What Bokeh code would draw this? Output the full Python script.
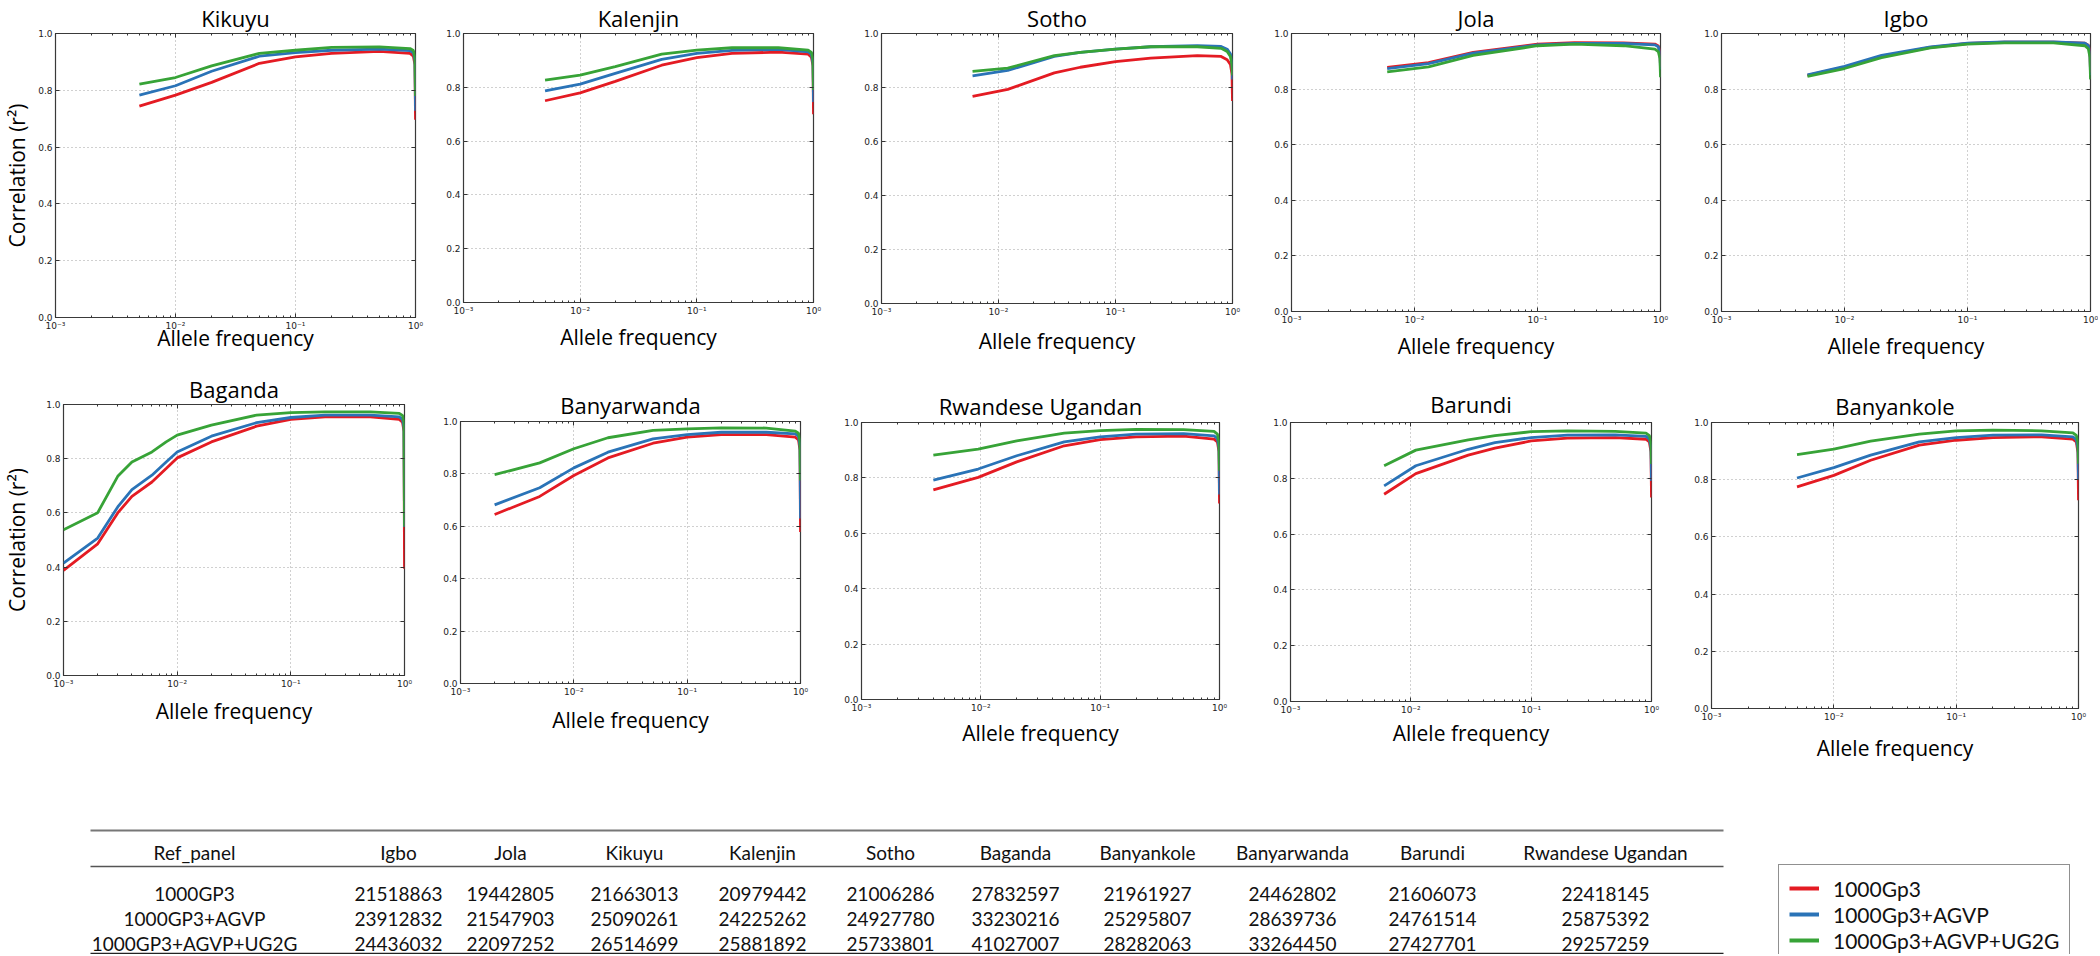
from bokeh.plotting import figure
from bokeh.layouts import row, column
from bokeh.models import (Range1d, FixedTicker, CustomJSTickFormatter, PrintfTickFormatter,
                          Legend, LegendItem, LogAxis, LinearAxis)
from bokeh.embed import file_html
from bokeh.resources import INLINE
from bokeh.core.properties import value

# ---------------- data ----------------
series_labels = ["1000Gp3", "1000Gp3+AGVP", "1000Gp3+AGVP+UG2G"]

kikuyu_af = [0.005, 0.01, 0.02, 0.05, 0.1, 0.2, 0.5, 0.9, 0.96, 0.99, 1.0]
kikuyu_1000g = [0.744, 0.783, 0.828, 0.895, 0.918, 0.930, 0.937, 0.930, 0.920, 0.890, 0.696]
kikuyu_agvp = [0.783, 0.816, 0.867, 0.920, 0.933, 0.941, 0.945, 0.940, 0.932, 0.905, 0.728]
kikuyu_ug2g = [0.822, 0.845, 0.886, 0.930, 0.941, 0.951, 0.953, 0.947, 0.940, 0.915, 0.780]

kalenjin_af = [0.005, 0.01, 0.02, 0.05, 0.1, 0.2, 0.5, 0.9, 0.96, 0.99, 1.0]
kalenjin_1000g = [0.750, 0.779, 0.822, 0.882, 0.910, 0.926, 0.931, 0.923, 0.912, 0.880, 0.700]
kalenjin_agvp = [0.787, 0.812, 0.852, 0.904, 0.926, 0.937, 0.941, 0.932, 0.922, 0.890, 0.745]
kalenjin_ug2g = [0.827, 0.845, 0.877, 0.923, 0.938, 0.947, 0.947, 0.938, 0.930, 0.905, 0.790]

sotho_af = [0.006, 0.012, 0.03, 0.05, 0.1, 0.2, 0.5, 0.8, 0.9, 0.96, 0.99, 1.0]
sotho_1000g = [0.767, 0.793, 0.854, 0.875, 0.896, 0.909, 0.918, 0.915, 0.903, 0.885, 0.850, 0.750]
sotho_agvp = [0.843, 0.863, 0.915, 0.930, 0.942, 0.951, 0.955, 0.952, 0.942, 0.925, 0.890, 0.830]
sotho_ug2g = [0.860, 0.872, 0.918, 0.930, 0.942, 0.951, 0.951, 0.945, 0.933, 0.915, 0.885, 0.845]

jola_af = [0.006, 0.013, 0.03, 0.1, 0.2, 0.5, 0.9, 0.96, 0.99, 1.0]
jola_1000g = [0.878, 0.895, 0.932, 0.962, 0.967, 0.966, 0.962, 0.955, 0.935, 0.880]
jola_agvp = [0.874, 0.892, 0.929, 0.959, 0.964, 0.964, 0.959, 0.952, 0.930, 0.870]
jola_ug2g = [0.862, 0.880, 0.921, 0.956, 0.962, 0.956, 0.944, 0.935, 0.910, 0.843]

igbo_af = [0.005, 0.01, 0.02, 0.05, 0.1, 0.2, 0.5, 0.9, 0.96, 0.99, 1.0]
igbo_1000g = [0.849, 0.879, 0.918, 0.950, 0.964, 0.969, 0.969, 0.965, 0.958, 0.935, 0.860]
igbo_agvp = [0.851, 0.882, 0.921, 0.952, 0.965, 0.970, 0.970, 0.965, 0.957, 0.930, 0.850]
igbo_ug2g = [0.846, 0.874, 0.913, 0.948, 0.962, 0.966, 0.966, 0.956, 0.945, 0.915, 0.835]

baganda_af = [0.001, 0.002, 0.003, 0.004, 0.006, 0.008, 0.01, 0.02, 0.05, 0.1, 0.2, 0.5, 0.9, 0.96, 0.99, 1.0]
baganda_1000g = [0.388, 0.486, 0.600, 0.661, 0.714, 0.764, 0.803, 0.862, 0.920, 0.945, 0.954, 0.954, 0.945, 0.935, 0.900, 0.394]
baganda_agvp = [0.415, 0.507, 0.622, 0.686, 0.739, 0.788, 0.825, 0.883, 0.933, 0.952, 0.961, 0.961, 0.954, 0.945, 0.915, 0.548]
baganda_ug2g = [0.538, 0.601, 0.735, 0.788, 0.825, 0.862, 0.887, 0.924, 0.961, 0.970, 0.973, 0.973, 0.967, 0.960, 0.935, 0.550]

banyarwanda_af = [0.002, 0.005, 0.01, 0.02, 0.05, 0.1, 0.2, 0.5, 0.9, 0.96, 0.99, 1.0]
banyarwanda_1000g = [0.645, 0.714, 0.794, 0.861, 0.917, 0.940, 0.950, 0.950, 0.940, 0.930, 0.890, 0.578]
banyarwanda_agvp = [0.682, 0.747, 0.823, 0.883, 0.934, 0.950, 0.959, 0.959, 0.953, 0.943, 0.905, 0.630]
banyarwanda_ug2g = [0.797, 0.842, 0.896, 0.938, 0.966, 0.972, 0.976, 0.975, 0.963, 0.955, 0.925, 0.775]

rwandese_af = [0.004, 0.0095, 0.02, 0.05, 0.1, 0.2, 0.5, 0.9, 0.96, 0.99, 1.0]
rwandese_1000g = [0.757, 0.802, 0.858, 0.916, 0.938, 0.948, 0.951, 0.940, 0.930, 0.895, 0.708]
rwandese_agvp = [0.792, 0.832, 0.880, 0.930, 0.948, 0.958, 0.960, 0.952, 0.942, 0.910, 0.740]
rwandese_ug2g = [0.882, 0.904, 0.934, 0.962, 0.971, 0.975, 0.974, 0.968, 0.958, 0.930, 0.826]

barundi_af = [0.006, 0.011, 0.03, 0.05, 0.1, 0.2, 0.5, 0.9, 0.96, 0.99, 1.0]
barundi_1000g = [0.743, 0.817, 0.883, 0.908, 0.934, 0.944, 0.946, 0.940, 0.930, 0.895, 0.731]
barundi_agvp = [0.773, 0.845, 0.904, 0.928, 0.946, 0.955, 0.956, 0.950, 0.940, 0.910, 0.790]
barundi_ug2g = [0.845, 0.901, 0.938, 0.953, 0.967, 0.970, 0.968, 0.962, 0.953, 0.925, 0.851]

banyankole_af = [0.005, 0.01, 0.02, 0.05, 0.1, 0.2, 0.5, 0.9, 0.96, 0.99, 1.0]
banyankole_1000g = [0.775, 0.815, 0.868, 0.921, 0.938, 0.947, 0.950, 0.942, 0.932, 0.895, 0.728]
banyankole_agvp = [0.806, 0.842, 0.886, 0.932, 0.947, 0.956, 0.957, 0.950, 0.940, 0.910, 0.800]
banyankole_ug2g = [0.888, 0.907, 0.935, 0.959, 0.971, 0.973, 0.971, 0.964, 0.955, 0.930, 0.856]

# table
table_header = ["Ref_panel", "Igbo", "Jola", "Kikuyu", "Kalenjin", "Sotho", "Baganda",
                "Banyankole", "Banyarwanda", "Barundi", "Rwandese Ugandan"]
table_panels = ["1000GP3", "1000GP3+AGVP", "1000GP3+AGVP+UG2G"]
counts_1000gp3 = ["21518863", "19442805", "21663013", "20979442", "21006286", "27832597",
                  "21961927", "24462802", "21606073", "22418145"]
counts_agvp = ["23912832", "21547903", "25090261", "24225262", "24927780", "33230216",
               "25295807", "28639736", "24761514", "25875392"]
counts_ug2g = ["24436032", "22097252", "26514699", "25881892", "25733801", "41027007",
               "28282063", "33264450", "27427701", "29257259"]

# ---------------- styles / layout ----------------
COLORS = ["#e41b23", "#2a73b7", "#37a337"]
TFONT = "Open Sans"
TABFONT = "Lato"
TICKFONT = "DejaVu Sans"
YLABEL = "Correlation (r\u00b2)"
NAN = float("nan")

SUP = CustomJSTickFormatter(code="""
const e = Math.round(Math.log10(tick));
const m = {'-':'\u207b','0':'\u2070','1':'\u00b9','2':'\u00b2','3':'\u00b3'};
return '10' + String(e).split('').map(c => m[c]).join('');
""")
XMAJ = [1e-3, 1e-2, 1e-1, 1.0]
MINORS = [k * 10.0 ** e for e in (-3, -2, -1) for k in range(2, 10)]
YMAJ = [0.0, 0.2, 0.4, 0.6, 0.8, 1.0]


def style_ticks(ax):
    ax.axis_line_color = None
    ax.major_tick_in = 4
    ax.major_tick_out = 0
    ax.minor_tick_in = 2
    ax.minor_tick_out = 0
    ax.major_tick_line_color = "#333333"
    ax.minor_tick_line_color = "#333333"


def make_panel(name, af, s1, s2, s3, width, height, left, right, top, bottom,
               title_standoff, xlab_standoff, ylab_standoff=None):
    p = figure(width=width, height=height, x_axis_type="log",
               x_range=Range1d(1e-3, 1.0), y_range=Range1d(0.0, 1.0),
               output_backend="svg", toolbar_location=None, frame_align=False,
               min_border_left=left, min_border_right=right,
               min_border_top=top, min_border_bottom=bottom)
    p.title.text = name
    p.title.align = "center"
    p.title.text_font = TFONT
    p.title.text_font_size = "22px"
    p.title.text_font_style = "normal"
    p.title.text_color = "#000000"
    p.title.standoff = title_standoff
    for ys, c in zip((s1, s2, s3), COLORS):
        p.line(af, ys, line_color=c, line_width=2.8)
    p.xaxis.ticker = FixedTicker(ticks=XMAJ, minor_ticks=MINORS)
    p.xaxis.formatter = SUP
    p.yaxis.ticker = FixedTicker(ticks=YMAJ)
    p.yaxis.formatter = PrintfTickFormatter(format="%.1f")
    for ax in (p.xaxis[0], p.yaxis[0]):
        style_ticks(ax)
        ax.major_label_text_font = TICKFONT
        ax.major_label_text_font_size = "9px"
        ax.major_label_text_color = "#222222"
        ax.major_label_standoff = 3
    p.yaxis.minor_tick_line_color = None
    # mirrored tick marks on the top and right edges (labels hidden)
    top_ax = LogAxis(ticker=FixedTicker(ticks=XMAJ, minor_ticks=MINORS), formatter=SUP,
                     major_label_text_font_size="1px", major_label_text_alpha=0.0,
                     major_label_standoff=0)
    right_ax = LinearAxis(ticker=FixedTicker(ticks=YMAJ),
                          major_label_text_font_size="1px", major_label_text_alpha=0.0,
                          major_label_standoff=0)
    style_ticks(top_ax)
    style_ticks(right_ax)
    right_ax.minor_tick_line_color = None
    p.add_layout(top_ax, "above")
    p.add_layout(right_ax, "right")

    xa = p.below[0]
    xa.axis_label = "Allele frequency"
    xa.axis_label_text_font = TFONT
    xa.axis_label_text_font_size = "21px"
    xa.axis_label_text_font_style = "normal"
    xa.axis_label_text_color = "#000000"
    xa.axis_label_standoff = xlab_standoff
    if ylab_standoff is not None:
        ya = p.left[0]
        ya.axis_label = YLABEL
        ya.axis_label_text_font = TFONT
        ya.axis_label_text_font_size = "21px"
        ya.axis_label_text_font_style = "normal"
        ya.axis_label_text_color = "#000000"
        ya.axis_label_standoff = ylab_standoff
    p.grid.grid_line_color = "#a0a0a0"
    p.grid.grid_line_dash = "1 3"
    p.grid.grid_line_width = 1
    p.outline_line_color = "#3a3a3a"
    p.outline_line_width = 1.2
    p.outline_line_alpha = 1.0
    p.background_fill_color = "white"
    p.border_fill_color = "white"
    return p


TOTAL_W = 2098
H1, H2, H3 = 362, 408, 184

top = [
    make_panel("Kikuyu", kikuyu_af, kikuyu_1000g, kikuyu_agvp, kikuyu_ug2g, 433, H1, 48, 18, 33, 45, 1, -10, 4),
    make_panel("Kalenjin", kalenjin_af, kalenjin_1000g, kalenjin_agvp, kalenjin_ug2g, 415, H1, 30, 35, 31, 60, 1, 4),
    make_panel("Sotho", sotho_af, sotho_1000g, sotho_agvp, sotho_ug2g, 415, H1, 33, 31, 31, 59, 1, 7),
    make_panel("Jola", jola_af, jola_1000g, jola_agvp, jola_ug2g, 430, H1, 28, 33, 32, 44, 1, 4),
    make_panel("Igbo", igbo_af, igbo_1000g, igbo_agvp, igbo_ug2g, 405, H1, 28, 8, 32, 44, 1, 4),
]
bottom = [
    make_panel("Baganda", baganda_af, baganda_1000g, baganda_agvp, baganda_ug2g, 430, H2, 54, 26, 42, 95, 2, 5, 12),
    make_panel("Banyarwanda", banyarwanda_af, banyarwanda_1000g, banyarwanda_agvp, banyarwanda_ug2g, 400, H2, 30, 30, 59, 87, 3, 6),
    make_panel("Rwandese Ugandan", rwandese_af, rwandese_1000g, rwandese_agvp, rwandese_ug2g, 425, H2, 31, 36, 60, 71, 3, 3),
    make_panel("Barundi", barundi_af, barundi_1000g, barundi_agvp, barundi_ug2g, 425, H2, 35, 29, 60, 69, 8, 1),
    make_panel("Banyankole", banyankole_af, banyankole_1000g, banyankole_agvp, banyankole_ug2g, 418, H2, 31, 20, 60, 62, 3, 9),
]

# ---------------- table + legend (page pixel layout) ----------------
col_x = [194, 398, 510, 634, 762, 890, 1015, 1147, 1292, 1432, 1605]
header_y = 852
row_y = [893, 918, 943]
rule_y = [830, 866, 953]
rule_colors = ["#777777", "#555555", "#222222"]
rule_widths = [2.0, 1.6, 1.6]
table_left, table_right = 90, 1723
T0 = H1 + H2

tp = figure(width=TOTAL_W, height=H3, x_range=Range1d(0, TOTAL_W), y_range=Range1d(T0 + H3, T0),
            x_axis_location=None, y_axis_location=None, output_backend="svg",
            toolbar_location=None, min_border=0, frame_align=False)
tp.grid.visible = False
tp.outline_line_color = None

tp.segment(x0=[table_left] * 3, x1=[table_right] * 3, y0=rule_y, y1=rule_y,
           line_color=rule_colors, line_width=rule_widths)
tp.text(x=col_x, y=[header_y] * len(col_x), text=table_header, text_align="center",
        text_baseline="middle", text_font=value(TABFONT), text_font_size="19px", text_color="#111111")
for ry, name, counts in zip(row_y, table_panels, (counts_1000gp3, counts_agvp, counts_ug2g)):
    tp.text(x=col_x, y=[ry] * len(col_x), text=[name] + counts, text_align="center",
            text_baseline="middle", text_font=value(TABFONT), text_font_size="19px", text_color="#111111")

items = []
for lab, c in zip(series_labels, COLORS):
    r = tp.line(x=[NAN, NAN], y=[NAN, NAN], line_color=c, line_width=4)
    items.append(LegendItem(label=lab, renderers=[r]))
leg = Legend(items=items, location=(1778, -10), orientation="vertical",
             label_text_font=TABFONT, label_text_font_size="21px", label_text_color="#111111",
             glyph_width=30, glyph_height=26, label_height=26, label_standoff=14,
             spacing=0, padding=10, margin=0,
             border_line_color="#222222", border_line_width=1, background_fill_alpha=1.0)
tp.add_layout(leg)

layout = column(row(*top), row(*bottom), tp)
open("out.html", "w").write(file_html(layout, INLINE))
